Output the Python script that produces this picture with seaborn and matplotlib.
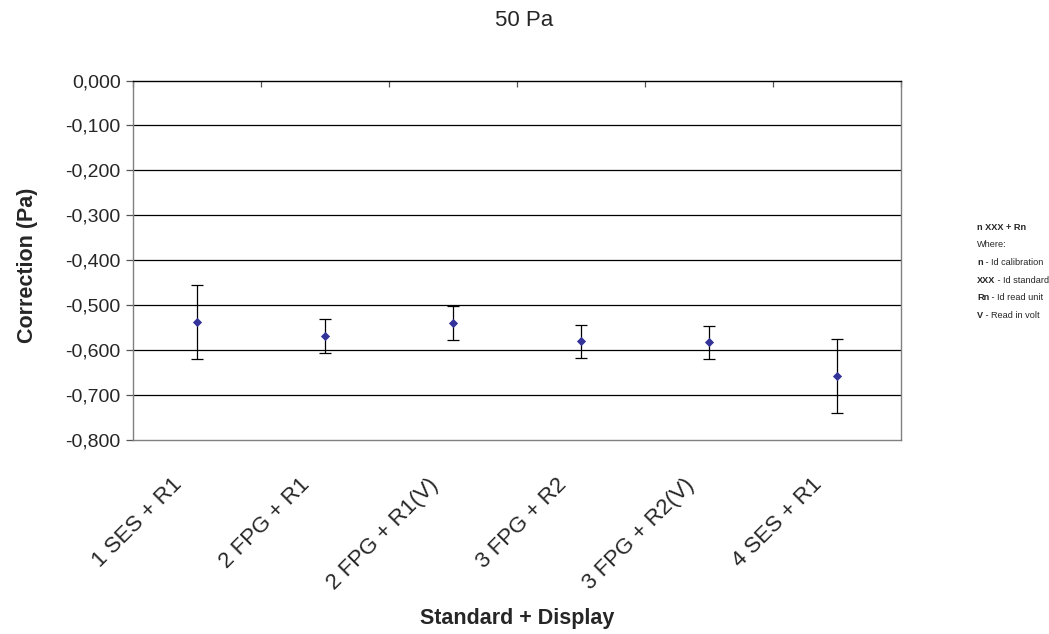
import numpy as np
import pandas as pd
import matplotlib
matplotlib.use("Agg")
import matplotlib.pyplot as plt
import seaborn as sns

# Correction measured for each standard + display combination at 50 Pa
categories = ["1 SES + R1", "2 FPG + R1", "2 FPG + R1(V)", "3 FPG + R2", "3 FPG + R2(V)", "4 SES + R1"]
corrections = [-0.538, -0.569, -0.540, -0.580, -0.583, -0.657]
uncertainty = [0.082, 0.038, 0.038, 0.037, 0.037, 0.082]
y_ticks = [0.0, -0.1, -0.2, -0.3, -0.4, -0.5, -0.6, -0.7, -0.8]

sns.set_theme(style="white")
plt.rcParams["font.family"] = ["Liberation Sans", "DejaVu Sans"]

df = pd.DataFrame({"combo": categories, "corr": corrections, "u": uncertainty})

fig = plt.figure(figsize=(10.49, 6.34), dpi=100)
ax = fig.add_axes([0.1268, 0.306, 0.7321, 0.567])

xpos = np.arange(len(categories))
ax.errorbar(xpos, df["corr"], yerr=df["u"], fmt="none", ecolor="black",
            elinewidth=0.9, capsize=4, capthick=0.9, zorder=3)
sns.scatterplot(data=df, x="combo", y="corr", marker="D", s=22,
                color="#333399", edgecolor="#333399", linewidth=0, ax=ax, zorder=4)

ax.set_xlim(-0.5, len(categories) - 0.5)
ax.set_ylim(-0.8, 0.0)
ax.set_yticks(y_ticks)
ax.set_yticklabels([f"{v:.3f}".replace(".", ",") for v in y_ticks], fontsize=14)

# Horizontal gridlines
for v in y_ticks[1:-1]:
    ax.axhline(v, color="black", linewidth=0.9, zorder=1)

# Category labels hang below the plot; boundary ticks sit on the zero line
label_offset = 0.14
ax.set_xticks(xpos - label_offset)
ax.set_xticklabels(categories, rotation=45, ha="right", va="center",
                   rotation_mode="anchor", fontsize=16)
ax.set_xticks(np.arange(len(categories) + 1) - 0.5, minor=True)
ax.tick_params(axis="x", which="major", length=0, pad=30)
ax.tick_params(axis="x", which="minor", top=True, bottom=False, direction="in",
               length=4, width=0.9, color="#555555")
ax.tick_params(axis="y", which="major", left=True, direction="out", length=5,
               width=0.9, color="#555555", pad=4)

for side in ["left", "bottom", "right"]:
    ax.spines[side].set_color("#808080")
    ax.spines[side].set_linewidth(1.0)
ax.spines["top"].set_color("black")
ax.spines["top"].set_linewidth(1.0)

ax.set_xlabel("")
ax.set_ylabel("")
fig.text(0.026, 0.582, "Correction (Pa)", rotation=90, ha="center", va="center",
         fontsize=15.5, fontweight="bold")
fig.text(0.493, 0.025, "Standard + Display", ha="center", va="center",
         fontsize=15.5, fontweight="bold")
fig.text(0.5, 0.967, "50 Pa", ha="center", va="center", fontsize=16)

# Notation key at the right
key_lines = [("n XXX + Rn", ""), ("", "Where:"), ("n", " - Id calibration"),
             ("XXX", " - Id standard"), ("Rn", " - Id read unit"), ("V", " - Read in volt")]
fig.canvas.draw()
renderer = fig.canvas.get_renderer()
x0 = 977
y_px = 227
for bold, rest in key_lines:
    x = x0
    yf = 1 - y_px / 634
    if bold:
        t = fig.text(x / 1049, yf, bold, fontsize=6.6, fontweight="bold", va="center", ha="left")
        x += t.get_window_extent(renderer).width
    if rest:
        fig.text(x / 1049, yf, rest, fontsize=6.6, va="center", ha="left")
    y_px += 17.7

fig.savefig("out.png", dpi=100)
